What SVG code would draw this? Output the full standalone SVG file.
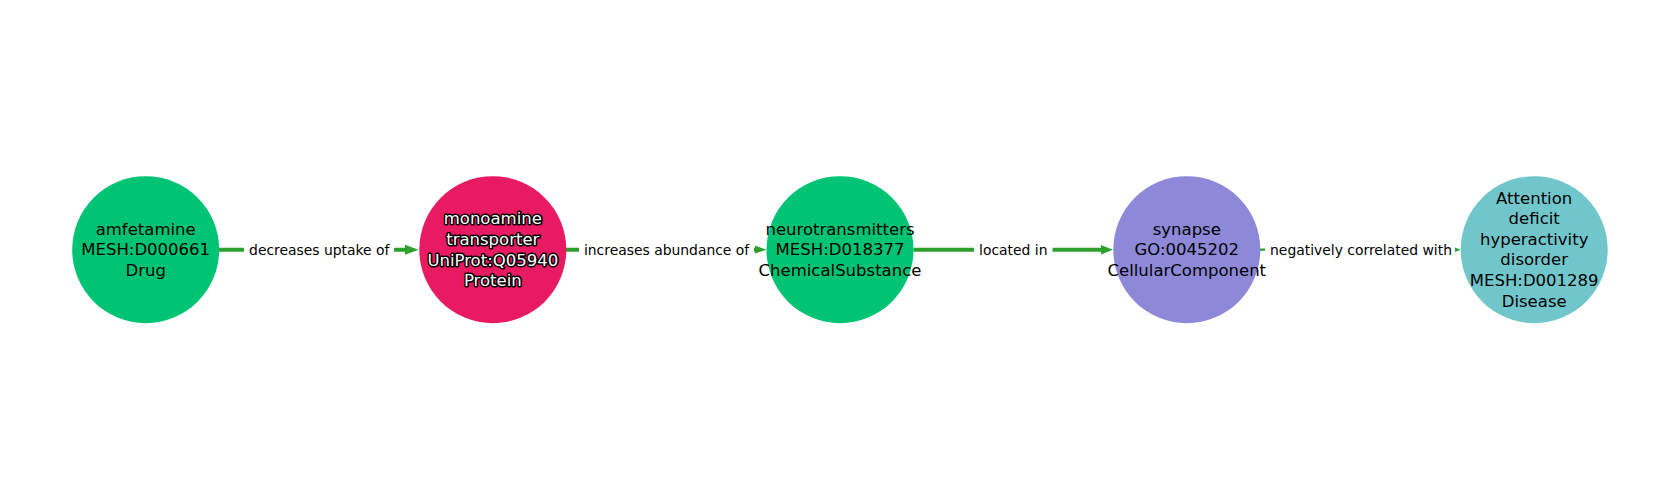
<svg xmlns="http://www.w3.org/2000/svg" width="1680" height="500" viewBox="0 0 1680 500">
<style>
.node text{font-family:"DejaVu Sans",sans-serif;font-size:16.5px;text-anchor:middle;fill:#000}
.node text.halo{fill:#fff;stroke:#000;stroke-width:3;stroke-linejoin:round;paint-order:stroke}
.edge line{stroke:#2ca02c}
.edge polygon{fill:#2ca02c}
.edge rect{fill:#fff}
.edge text{font-family:"DejaVu Sans",sans-serif;font-size:13.9px;text-anchor:middle;fill:#000}
</style>
<rect width="1680" height="500" fill="#fff"/>
<g id="connectors">
  <g class="edge" id="e1">
    <line x1="219" y1="249.7" x2="406" y2="249.7" stroke-width="4"/>
    <polygon points="405,244.7 418.5,249.7 405,254.7"/>
    <rect x="244" y="238" width="150" height="24"/>
    <text x="319.3" y="254.5">decreases uptake of</text>
  </g>
  <g class="edge" id="e2">
    <line x1="566" y1="249.7" x2="756" y2="249.7" stroke-width="4"/>
    <polygon points="755,245.8 766.5,249.7 755,253.6"/>
    <rect x="579" y="238" width="175" height="24"/>
    <text x="666.6" y="254.5">increases abundance of</text>
  </g>
  <g class="edge" id="e3">
    <line x1="913.5" y1="249.7" x2="1102" y2="249.7" stroke-width="4"/>
    <polygon points="1101,245 1113,249.7 1101,254.4"/>
    <rect x="974" y="238" width="78.5" height="24"/>
    <text x="1013.3" y="254.5">located in</text>
  </g>
  <g class="edge" id="e4">
    <line x1="1260" y1="249.7" x2="1456" y2="249.7" stroke-width="2.2"/>
    <polygon points="1455,247.5 1460.5,249.7 1455,251.9"/>
    <rect x="1265" y="238" width="190" height="24"/>
    <text x="1361" y="254.5">negatively correlated with</text>
  </g>
</g>
<g class="node" id="n1">
  <circle cx="145.7" cy="249.7" r="73.5" fill="#00c473"/>
  <text x="145.7" y="234.5">amfetamine</text>
  <text x="145.7" y="255.3">MESH:D000661</text>
  <text x="145.7" y="276">Drug</text>
</g>
<g class="node" id="n2">
  <circle cx="492.8" cy="249.7" r="73.5" fill="#e81a62"/>
  <text class="halo" x="492.8" y="224.3">monoamine</text>
  <text class="halo" x="492.8" y="245">transporter</text>
  <text class="halo" x="492.8" y="265.6">UniProt:Q05940</text>
  <text class="halo" x="492.8" y="286.2">Protein</text>
</g>
<g class="node" id="n3">
  <circle cx="840" cy="249.7" r="73.5" fill="#00c473"/>
  <text x="840" y="234.5">neurotransmitters</text>
  <text x="840" y="255.3">MESH:D018377</text>
  <text x="840" y="276">ChemicalSubstance</text>
</g>
<g class="node" id="n4">
  <circle cx="1186.8" cy="249.7" r="73.5" fill="#8d88d8"/>
  <text x="1186.8" y="234.5">synapse</text>
  <text x="1186.8" y="255.3">GO:0045202</text>
  <text x="1186.8" y="276">CellularComponent</text>
</g>
<g class="node" id="n5">
  <circle cx="1534.2" cy="249.7" r="73.5" fill="#71c6cb"/>
  <text x="1534.2" y="203.5">Attention</text>
  <text x="1534.2" y="224.1">deficit</text>
  <text x="1534.2" y="244.7">hyperactivity</text>
  <text x="1534.2" y="265.3">disorder</text>
  <text x="1534.2" y="285.9">MESH:D001289</text>
  <text x="1534.2" y="306.5">Disease</text>
</g>
</svg>
